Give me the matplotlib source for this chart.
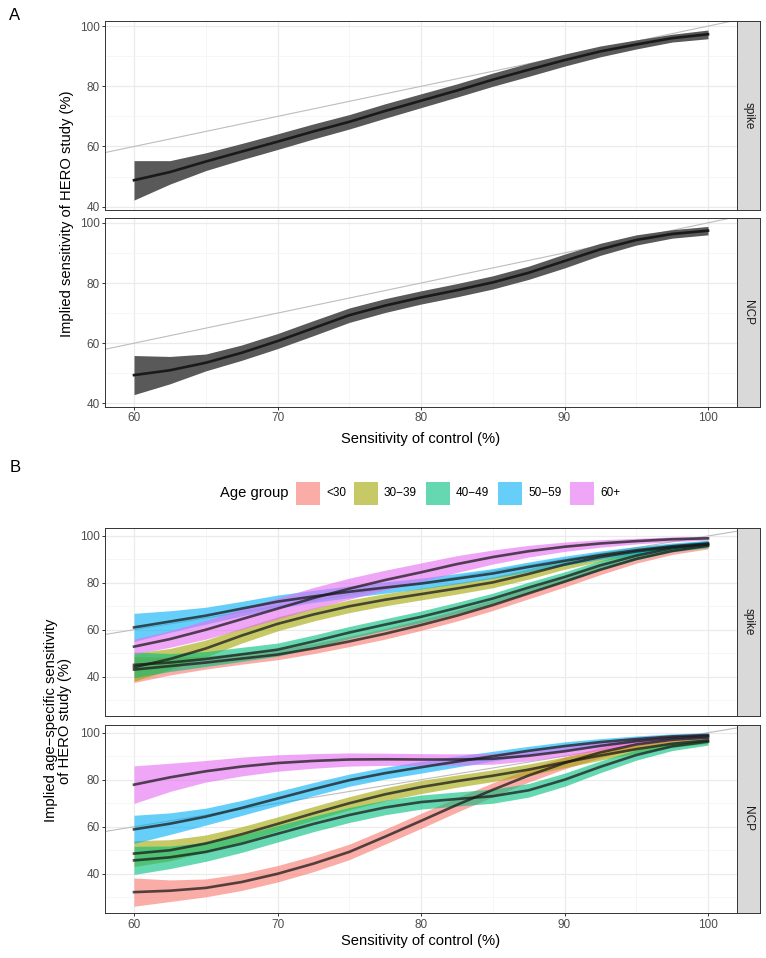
import numpy as np
import matplotlib
matplotlib.use("Agg")
import matplotlib.pyplot as plt
from matplotlib.patches import Rectangle

plt.rcParams['font.family'] = ['Liberation Sans', 'DejaVu Sans']

# ---------------- data ----------------
x_ctrl = [60, 62.5, 65, 67.5, 70, 72.5, 75, 77.5, 80, 82.5, 85, 87.5, 90, 92.5, 95, 97.5, 100]

# Panel A (overall)
a_spike_mid = [48.8, 51.5, 55.0, 58.3, 61.6, 65.0, 68.2, 71.8, 75.2, 78.6, 82.2, 85.5, 88.7, 91.6, 93.9, 96.0, 97.3]
a_spike_lo  = [42.2, 47.5, 52.0, 55.6, 59.0, 62.5, 65.8, 69.4, 72.9, 76.4, 80.0, 83.3, 86.7, 89.8, 92.4, 94.7, 95.8]
a_spike_hi  = [55.3, 55.3, 57.9, 61.0, 64.2, 67.5, 70.6, 74.2, 77.5, 80.8, 84.4, 87.7, 90.7, 93.4, 95.4, 97.3, 98.7]
a_ncp_mid = [49.4, 51.0, 53.5, 56.8, 60.7, 65.0, 69.3, 72.5, 75.2, 77.6, 80.2, 83.4, 87.3, 91.2, 94.3, 96.3, 97.4]
a_ncp_lo  = [42.9, 46.5, 50.8, 54.3, 58.2, 62.5, 66.9, 70.2, 73.0, 75.4, 78.0, 81.2, 85.0, 89.2, 92.6, 94.9, 96.0]
a_ncp_hi  = [55.9, 55.6, 56.4, 59.4, 63.2, 67.5, 71.7, 74.8, 77.4, 79.8, 82.4, 85.6, 89.6, 93.2, 96.0, 97.7, 98.8]

# Panel B (age-specific)
age_groups = ['<30', '30\u221239', '40\u221249', '50\u221259', '60+']
age_colors = ['#F8766D', '#A3A500', '#00BF7D', '#00B0F6', '#E76BF3']

b_spike_mid = {
    '<30':      [43.0, 44.5, 46.0, 47.7, 49.4, 52.0, 55.0, 58.3, 62.0, 66.0, 70.5, 75.5, 80.5, 85.6, 90.2, 93.6, 95.8],
    '30\u221239': [44.0, 47.5, 52.0, 57.5, 62.5, 66.5, 70.0, 72.8, 75.2, 77.6, 80.2, 83.8, 87.8, 91.0, 93.4, 95.2, 96.3],
    '40\u221249': [45.0, 46.0, 47.5, 49.5, 51.5, 55.0, 58.8, 62.2, 65.5, 69.3, 73.3, 78.0, 82.5, 87.5, 91.6, 94.8, 96.6],
    '50\u221259': [61.0, 63.5, 66.0, 69.0, 72.0, 74.2, 76.2, 78.0, 79.7, 81.8, 84.0, 86.8, 89.4, 91.8, 93.9, 95.6, 96.8],
    '60+':      [52.8, 56.0, 60.0, 64.5, 69.0, 73.5, 77.5, 81.2, 84.5, 88.0, 91.0, 93.5, 95.4, 96.8, 97.8, 98.6, 99.0],
}
b_spike_hw = {
    '<30':      [5.5, 3.8, 2.8, 2.4, 2.2, 2.2, 2.2, 2.3, 2.3, 2.3, 2.3, 2.3, 2.3, 2.1, 1.8, 1.5, 1.3],
    '30\u221239': [6.0, 4.5, 3.6, 3.2, 3.0, 2.8, 2.7, 2.6, 2.5, 2.4, 2.3, 2.2, 2.0, 1.8, 1.6, 1.4, 1.3],
    '40\u221249': [5.5, 3.8, 3.2, 3.0, 2.8, 2.7, 2.6, 2.5, 2.5, 2.4, 2.3, 2.3, 2.2, 2.0, 1.8, 1.6, 1.5],
    '50\u221259': [6.0, 4.6, 3.6, 3.1, 2.8, 2.6, 2.5, 2.4, 2.3, 2.2, 2.1, 2.1, 2.0, 1.8, 1.6, 1.4, 1.3],
    '60+':      [3.2, 3.5, 4.0, 4.3, 4.5, 4.5, 4.5, 4.2, 4.0, 3.6, 3.0, 2.5, 2.0, 1.6, 1.2, 1.0, 0.8],
}
b_ncp_mid = {
    '<30':      [32.2, 32.8, 34.0, 36.5, 40.0, 44.3, 49.3, 55.8, 62.5, 69.3, 75.7, 81.8, 87.1, 91.6, 95.0, 97.0, 97.9],
    '30\u221239': [48.6, 50.0, 52.9, 56.8, 61.2, 65.7, 70.0, 73.8, 76.9, 79.4, 81.7, 84.3, 87.4, 90.3, 93.0, 95.3, 96.7],
    '40\u221249': [45.7, 47.0, 49.3, 52.8, 57.0, 61.2, 65.0, 68.2, 70.5, 71.8, 73.0, 75.5, 80.0, 85.5, 90.5, 94.2, 96.2],
    '50\u221259': [58.9, 61.3, 64.3, 68.0, 72.0, 76.0, 79.8, 82.8, 85.3, 87.7, 90.0, 92.3, 94.3, 96.0, 97.3, 98.4, 99.0],
    '60+':      [77.9, 81.0, 83.6, 85.6, 87.1, 88.0, 88.6, 88.7, 88.6, 88.6, 88.9, 90.2, 92.1, 94.4, 96.4, 97.8, 98.6],
}
b_ncp_hw = {
    '<30':      [6.0, 4.6, 3.8, 3.6, 3.5, 3.4, 3.3, 3.2, 3.2, 3.1, 3.0, 2.8, 2.5, 2.2, 1.8, 1.5, 1.2],
    '30\u221239': [5.5, 4.5, 3.6, 3.2, 3.0, 2.9, 2.8, 2.8, 2.8, 2.6, 2.5, 2.4, 2.3, 2.0, 1.7, 1.5, 1.3],
    '40\u221249': [6.0, 4.8, 4.0, 3.7, 3.5, 3.3, 3.2, 3.1, 3.0, 3.0, 3.0, 2.9, 2.8, 2.5, 2.2, 1.8, 1.5],
    '50\u221259': [6.0, 4.6, 3.6, 3.2, 3.0, 2.8, 2.6, 2.5, 2.5, 2.3, 2.1, 1.9, 1.8, 1.5, 1.3, 1.1, 1.0],
    '60+':      [8.0, 6.0, 4.6, 4.0, 3.5, 3.1, 2.8, 2.6, 2.5, 2.4, 2.3, 2.2, 2.0, 1.8, 1.5, 1.2, 1.0],
}

facet_labels = ['spike', 'NCP']
x_ticks = [60, 70, 80, 90, 100]

# ---------------- layout ----------------
W, H = 766, 958
fig = plt.figure(figsize=(W / 100, H / 100), dpi=100)

BORDER = '#333333'
GRID = '#EBEBEB'
TICKLAB = '#4D4D4D'
TICK_FS = 8.5
TITLE_FS = 10.6


def ax_at(l, t, r, b):
    return fig.add_axes([l / W, 1 - b / H, (r - l) / W, (b - t) / H])


def style_panel(ax, ylim, yticks, yminor, show_x):
    ax.set_xlim(58, 102)
    ax.set_ylim(*ylim)
    ax.set_xticks(x_ticks)
    ax.set_xticks([65, 75, 85, 95], minor=True)
    ax.set_yticks(yticks)
    ax.set_yticks(yminor, minor=True)
    ax.grid(True, which='major', color=GRID, lw=0.9, zorder=0)
    ax.grid(True, which='minor', color='#F3F3F3', lw=0.5, zorder=0)
    ax.set_axisbelow(True)
    for s in ax.spines.values():
        s.set_color(BORDER)
        s.set_linewidth(0.7)
    ax.tick_params(which='major', length=2.4, width=0.7, color=BORDER,
                   labelsize=TICK_FS, labelcolor=TICKLAB, pad=1.5)
    ax.tick_params(which='minor', length=0)
    if not show_x:
        ax.tick_params(axis='x', which='both', length=0, labelbottom=False)
    # identity reference line
    ax.plot([58, 102], [58, 102], color='#BDBDBD', lw=0.8, zorder=1)


def strip_at(t, b, label):
    s = ax_at(736.7, t, 760, b)
    s.set_facecolor('#D9D9D9')
    s.set_xticks([])
    s.set_yticks([])
    for sp in s.spines.values():
        sp.set_color(BORDER)
        sp.set_linewidth(0.7)
    s.text(0.5, 0.5, label, rotation=270, ha='center', va='center',
           fontsize=TICK_FS, color='#1A1A1A', transform=s.transAxes)


# ---- Panel A ----
a_mid = [a_spike_mid, a_ncp_mid]
a_lo = [a_spike_lo, a_ncp_lo]
a_hi = [a_spike_hi, a_ncp_hi]
a_boxes = [(21.3, 210.0), (218.0, 406.7)]
for i, (t, b) in enumerate(a_boxes):
    ax = ax_at(105.3, t, 736.7, b)
    style_panel(ax, (38.9, 101.6), [40, 60, 80, 100], [50, 70, 90], show_x=(i == 1))
    ax.fill_between(x_ctrl, a_lo[i], a_hi[i], color='#595959', lw=0, zorder=2)
    ax.plot(x_ctrl, a_mid[i], color='#1A1A1A', lw=1.9, zorder=3,
            solid_joinstyle='round')
    strip_at(t, b, facet_labels[i])

fig.text(0.012, 1 - 16 / H, 'A', fontsize=12, ha='left', va='center')
fig.text(67 / W, 1 - 214 / H, 'Implied sensitivity of HERO study (%)', rotation=90,
         ha='center', va='center', fontsize=TITLE_FS)
fig.text((105.3 + 736.7) / 2 / W, 1 - 439 / H, 'Sensitivity of control (%)',
         ha='center', va='center', fontsize=TITLE_FS)

# ---- Panel B ----
b_mid = [b_spike_mid, b_ncp_mid]
b_hw = [b_spike_hw, b_ncp_hw]
b_boxes = [(528.0, 716.0), (724.7, 913.3)]
for i, (t, b) in enumerate(b_boxes):
    ax = ax_at(105.3, t, 736.7, b)
    style_panel(ax, (23.2, 103.4), [40, 60, 80, 100], [30, 50, 70, 90], show_x=(i == 1))
    for g, c in zip(age_groups, age_colors):
        mid = np.array(b_mid[i][g])
        hw = np.array(b_hw[i][g])
        ax.fill_between(x_ctrl, mid - hw, mid + hw, color=c, alpha=0.6, lw=0, zorder=2)
    for g in age_groups:
        ax.plot(x_ctrl, b_mid[i][g], color='#1A1A1A', alpha=0.75, lw=1.9, zorder=3,
                solid_joinstyle='round')
    strip_at(t, b, facet_labels[i])

fig.text(0.012, 1 - 468 / H, 'B', fontsize=12, ha='left', va='center')
fig.text(58 / W, 1 - 720.7 / H, 'Implied age\u2212specific sensitivity\nof HERO study (%)',
         rotation=90, ha='center', va='center', fontsize=TITLE_FS, linespacing=1.05)
fig.text((105.3 + 736.7) / 2 / W, 1 - 941 / H, 'Sensitivity of control (%)',
         ha='center', va='center', fontsize=TITLE_FS)

# legend (manual, horizontal, title on the left)
leg_y = 493
fig.text(288 / W, 1 - leg_y / H, 'Age group', ha='right', va='center', fontsize=TITLE_FS)
sw_left = [296, 354, 426, 498, 570]
for g, c, xl in zip(age_groups, age_colors, sw_left):
    fig.add_artist(Rectangle((xl / W, 1 - (leg_y + 11.5) / H), 24 / W, 23 / H,
                             transform=fig.transFigure, facecolor=c, alpha=0.6, lw=0))
    fig.text((xl + 30) / W, 1 - leg_y / H, g, ha='left', va='center', fontsize=TICK_FS)

fig.savefig('out.png', dpi=100)
